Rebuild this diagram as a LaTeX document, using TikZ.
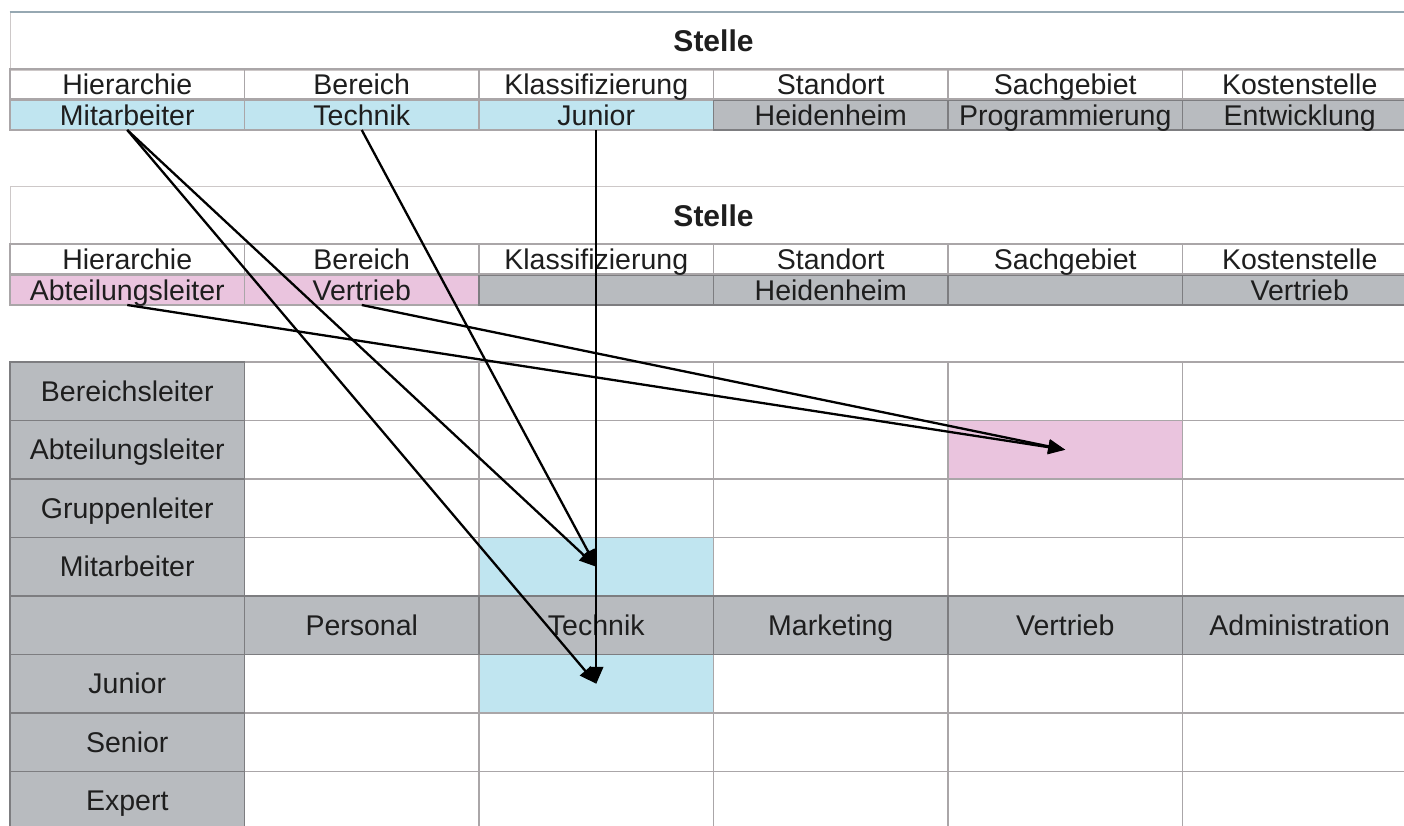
\documentclass[tikz,border=0pt]{standalone}
\usepackage{fontspec}
\setmainfont{Liberation Sans}
\usetikzlibrary{arrows.meta}
\definecolor{cblue}{RGB}{192,229,240}
\definecolor{cpink}{RGB}{234,196,222}
\definecolor{cgray}{RGB}{184,187,191}
\definecolor{cline}{RGB}{170,166,168}
\definecolor{cdark}{RGB}{125,125,128}
\definecolor{ctop}{RGB}{150,168,178}
\definecolor{clight}{RGB}{205,200,200}
\definecolor{ctext}{RGB}{30,30,30}
\begin{document}
\begin{tikzpicture}[x=1pt,y=-1pt,
  cell/.style={draw=cline, line width=1.5pt, minimum width=234.5pt, inner sep=0pt, outer sep=0pt,
    font=\fontsize{28.5}{30}\selectfont, text=ctext, text height=22.8pt, text depth=2.8pt, anchor=center},
  hrow/.style={cell, minimum height=30pt},
  gridcell/.style={cell, minimum height=58.5pt},
  gcell/.style={gridcell, fill=cgray, draw=cdark},
  titlebox/.style={draw=clight, line width=1pt, minimum width=1407pt, minimum height=58pt, inner sep=0pt,
    text=ctext, font=\bfseries\fontsize{30}{32}\selectfont},
  arr/.style={line width=2.3pt, -{Triangle[length=17pt,width=14pt]}}
]
\useasboundingbox (0,0) rectangle (1404,825);
\clip (0,0) rectangle (1404,825);
\fill[white] (0,0) rectangle (1404,825);

% ---------- first table ----------
\foreach \c/\lab in {0/Mitarbeiter,1/Technik,2/Junior}
  \node[hrow, fill=cblue] (av\c) at ({10+234.5*(\c+0.5)},115) {\lab};
\foreach \c/\lab in {3/Heidenheim,4/Programmierung,5/Entwicklung}
  \node[hrow, fill=cgray, draw=cdark] (av\c) at ({10+234.5*(\c+0.5)},115) {\lab};
\node[titlebox] (ta) at (713.5,41) {Stelle};
\draw[ctop, line width=2pt] (ta.north west) -- (ta.north east);
\foreach \c/\lab in {0/Hierarchie,1/Bereich,2/Klassifizierung,3/Standort,4/Sachgebiet,5/Kostenstelle}
  \node[hrow] (ah\c) at ({10+234.5*(\c+0.5)},84) {\lab};

% ---------- second table ----------
\foreach \c/\lab in {0/Abteilungsleiter,1/Vertrieb}
  \node[hrow, fill=cpink] (bv\c) at ({10+234.5*(\c+0.5)},290) {\lab};
\foreach \c/\lab in {2/,3/Heidenheim,4/,5/Vertrieb}
  \node[hrow, fill=cgray, draw=cdark] (bv\c) at ({10+234.5*(\c+0.5)},290) {\lab};
\node[titlebox] (tb) at (713.5,215.5) {Stelle};
\foreach \c/\lab in {0/Hierarchie,1/Bereich,2/Klassifizierung,3/Standort,4/Sachgebiet,5/Kostenstelle}
  \node[hrow] (bh\c) at ({10+234.5*(\c+0.5)},259) {\lab};

% ---------- matrix ----------
\foreach \r in {1,2,3,4,6,7,8}
  \foreach \c in {1,...,5} {
    \def\cf{white}
    \ifnum\r\c=42 \def\cf{cblue}\fi
    \ifnum\r\c=62 \def\cf{cblue}\fi
    \ifnum\r\c=24 \def\cf{cpink}\fi
    \node[gridcell, fill=\cf] (g\r-\c) at ({10+234.5*(\c+0.5)},{362+58.5*(\r-0.5)}) {};
  }
\foreach \r/\lab in {1/Bereichsleiter,2/Abteilungsleiter,3/Gruppenleiter,4/Mitarbeiter,5/,6/Junior,7/Senior,8/Expert}
  \node[gcell] (g\r-0) at (127.25,{362+58.5*(\r-0.5)}) {\lab};
\foreach \c/\lab in {1/Personal,2/Technik,3/Marketing,4/Vertrieb,5/Administration}
  \node[gcell] (g5-\c) at ({10+234.5*(\c+0.5)},625.25) {\lab};

% ---------- arrows ----------
\draw[arr] (av0.south) -- (g4-2.center);
\draw[arr] (av0.south) -- (g6-2.center);
\draw[arr] (av1.south) -- (g4-2.center);
\draw[arr] (av2.south) -- (g6-2.center);
\draw[arr] (bv0.south) -- (g2-4.center);
\draw[arr] (bv1.south) -- (g2-4.center);
\end{tikzpicture}
\end{document}
